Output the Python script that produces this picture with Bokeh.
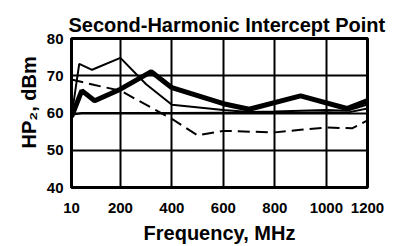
from bokeh.plotting import figure
from bokeh.models import FixedTicker, Range1d, Title
from bokeh.embed import file_html
from bokeh.resources import INLINE

# ---- data ----
thick_f = [10, 50, 100, 200, 320, 400, 600, 700, 900, 1080, 1160]
thick_v = [59.0, 66.0, 63.3, 66.4, 71.1, 66.8, 62.5, 61.0, 64.6, 61.2, 63.3]

thinA_f = [10, 40, 90, 200, 300, 400, 600, 700, 800, 1000, 1080, 1160]
thinA_v = [59.0, 73.2, 71.6, 74.8, 67.7, 62.2, 60.8, 60.3, 60.4, 60.8, 60.6, 62.3]

thinB_f = [10, 50, 200, 400, 600, 800, 900, 1000, 1080, 1160]
thinB_v = [59.5, 60.0, 60.0, 60.0, 60.1, 60.0, 60.1, 60.2, 60.1, 61.2]

dash_f = [10, 100, 200, 400, 500, 600, 800, 900, 1000, 1100, 1160]
dash_v = [69.0, 67.5, 66.0, 58.4, 54.0, 55.2, 54.8, 55.5, 56.1, 55.9, 58.0]

x_ticks = [10, 200, 400, 600, 800, 1000, 1160]
x_tick_labels = ["10", "200", "400", "600", "800", "1000", "1200"]
x_grid = [200, 400, 600, 800, 1000]
y_ticks = [40, 50, 60, 70, 80]
y_grid = [50, 60, 70]

title_text = "Second-Harmonic Intercept Point"
x_title = "Frequency, MHz"
y_title = "HP\u2082, dBm"

FONT = "Liberation Sans"

p = figure(width=404, height=246, output_backend="svg", toolbar_location=None,
           x_range=Range1d(10, 1160), y_range=Range1d(40, 80),
           min_border_left=71, min_border_right=37, min_border_top=38,
           min_border_bottom=55,
           title=title_text)

p.background_fill_color = "white"
p.border_fill_color = "white"
p.outline_line_color = "black"
p.outline_line_width = 3

p.title.text_font = FONT
p.title.text_font_style = "bold"
p.title.text_font_size = "20px"
p.title.text_color = "black"
p.title.align = "left"
p.title.offset = -3
p.title.standoff = 6

p.xaxis.ticker = FixedTicker(ticks=x_ticks)
p.xaxis.major_label_overrides = {t: l for t, l in zip(x_ticks, x_tick_labels)}
p.yaxis.ticker = FixedTicker(ticks=y_ticks)
p.xgrid.ticker = FixedTicker(ticks=x_grid)
p.ygrid.ticker = FixedTicker(ticks=y_grid)

for g in (p.xgrid, p.ygrid):
    g.grid_line_color = "black"
    g.grid_line_width = 2
    g.grid_line_alpha = 1.0

for ax in (p.xaxis, p.yaxis):
    ax.axis_line_color = None
    ax.major_tick_line_color = None
    ax.minor_tick_line_color = None
    ax.major_tick_out = 0
    ax.major_tick_in = 0
    ax.minor_tick_out = 0
    ax.minor_tick_in = 0
    ax.major_label_text_font = FONT
    ax.major_label_text_font_style = "bold"
    ax.major_label_text_font_size = "15px"
    ax.major_label_text_color = "black"
    ax.axis_label_text_font = FONT
    ax.axis_label_text_font_style = "bold"
    ax.axis_label_text_color = "black"

p.xaxis.axis_label = x_title
p.xaxis.axis_label_text_font_size = "20px"
p.xaxis.major_label_standoff = 15
p.xaxis.axis_label_standoff = 6

p.yaxis.major_label_standoff = 8

# vertical y-axis title (sits a little above the frame centre, as in the reference)
ytitle = Title(text=y_title, align="left", offset=39, standoff=7,
               text_font=FONT, text_font_style="bold", text_font_size="20px",
               text_color="black")
p.add_layout(ytitle, "left")

p.line(thinB_f, thinB_v, line_color="black", line_width=2)
p.line(thinA_f, thinA_v, line_color="black", line_width=2)
p.line(dash_f, dash_v, line_color="black", line_width=2, line_dash="12 6")
p.line(thick_f, thick_v, line_color="black", line_width=5)

open("out.html", "w").write(file_html(p, INLINE))
